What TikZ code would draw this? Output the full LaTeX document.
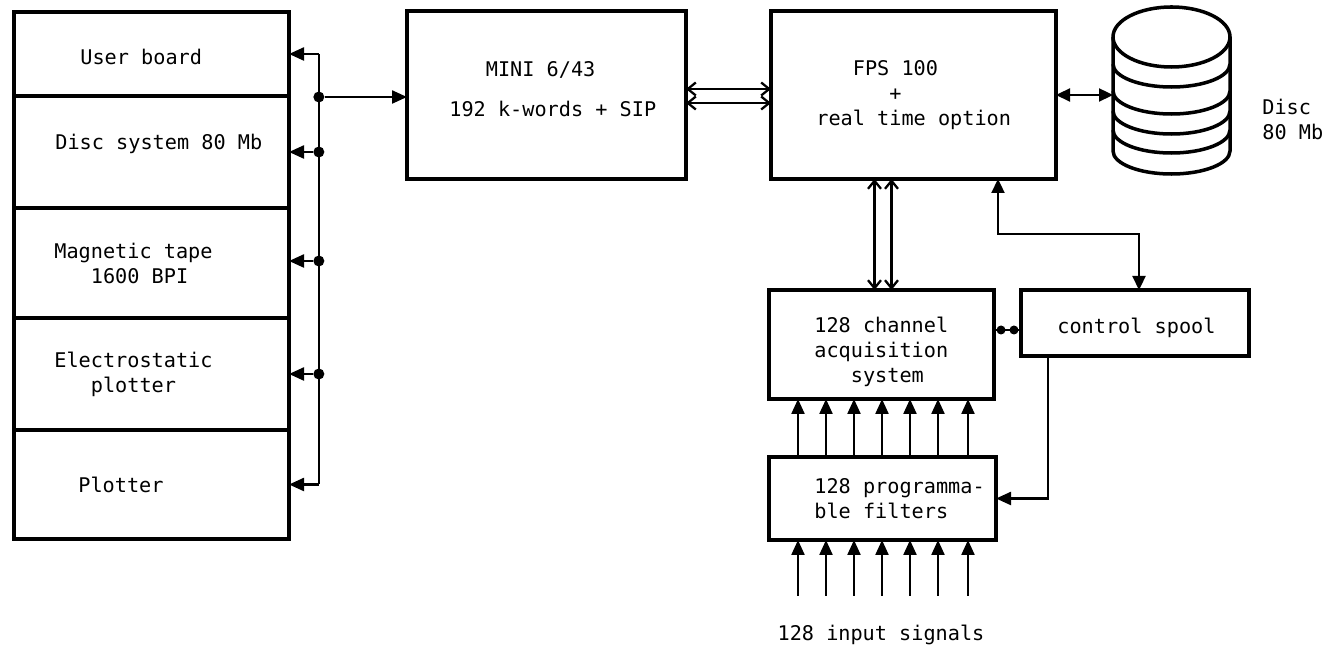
\documentclass[tikz,border=0pt]{standalone}
\usepackage{fontspec}
\setmainfont{DejaVu Sans Mono}
\usetikzlibrary{arrows.meta,positioning}

\begin{document}
\begin{tikzpicture}[
        unitbox/.style={draw, line width=2pt, outer sep=0pt, minimum width=#1},
        unitbox/.default=5.5cm,
        tag/.style={inner sep=0pt, align=left, font=\fontsize{11.5}{14.2}\selectfont},
        flow/.style={-{Triangle[length=3mm,width=2.6mm]}, line width=1.3pt},
        biflow/.style={{Triangle[length=2.8mm,width=2.6mm]}-{Triangle[length=2.8mm,width=2.6mm]}, line width=1.3pt},
        bus/.style={{Straight Barb[length=1.6mm,width=2.6mm]}-{Straight Barb[length=1.6mm,width=2.6mm]}, line width=1.3pt},
        junction/.style={circle, fill, inner sep=0pt, minimum size=2.2mm}
    ]
        \useasboundingbox (0,0) rectangle (26.46,-13);

        % peripherals
        \node[unitbox, minimum height=1.68cm, anchor=north west] (user-board) at (0.28,-0.24) {};
        \node[unitbox, minimum height=2.24cm, below=0pt of user-board] (disc-system) {};
        \node[unitbox, minimum height=2.2cm, below=0pt of disc-system] (magnetic-tape) {};
        \node[unitbox, minimum height=2.24cm, below=0pt of magnetic-tape] (electrostatic) {};
        \node[unitbox, minimum height=2.18cm, below=0pt of electrostatic] (plotter) {};

        \node[tag, right=1.32cm of user-board.west, yshift=-0.06cm] (user-board-text) {User board};
        \node[tag, right=0.82cm of disc-system.west, yshift=0.16cm] (disc-system-text) {Disc system 80 Mb};
        \node[tag, right=0.8cm of magnetic-tape.west] (magnetic-tape-text) {Magnetic tape\\~~~1600 BPI};
        \node[tag, right=0.8cm of electrostatic.west] (electrostatic-text) {Electrostatic\\~~~plotter};
        \node[tag, right=1.28cm of plotter.west] (plotter-text) {Plotter};

        % processors
        \node[unitbox=5.58cm, minimum height=3.36cm, right=2.36cm of user-board.north east, anchor=north west, yshift=0.02cm] (mini) {};
        \node[unitbox=5.7cm, minimum height=3.36cm, right=1.7cm of mini] (fps) {};
        \node[tag, right=0.84cm of mini.west, yshift=0.12cm] (mini-text) {~~~MINI 6/43\\[0.3cm]192 k-words + SIP};
        \node[tag, right=0.9cm of fps.west] (fps-text) {~~~FPS 100\\~~~~~~+\\real time option};

        % disc
        \node[minimum width=2.34cm, minimum height=3.36cm, outer sep=0pt, inner sep=0pt, right=1.14cm of fps.north east, anchor=north west, yshift=0.08cm] (disc) {};
        \node[tag, right=0.64cm of disc.east, yshift=-0.56cm] (disc-text) {Disc\\80 Mb};
        \draw[line width=2pt] (disc.north west) ++(0,-0.6) arc[start angle=180, end angle=-180, x radius=1.17cm, y radius=0.6cm];
        \draw[line width=2pt] ([yshift=-0.6cm]disc.north west) -- ([yshift=-2.88cm]disc.north west)
            arc[start angle=180, end angle=360, x radius=1.17cm, y radius=0.46cm] -- ([yshift=-0.6cm]disc.north east);
        \foreach \y in {1.14,1.68,2.08,2.46}
            \draw[line width=2pt] ([yshift=-\y cm]disc.north west) arc[start angle=180, end angle=360, x radius=1.17cm, y radius=0.46cm];

        % acquisition
        \node[unitbox=4.5cm, minimum height=2.18cm, below=2.22cm of fps.south west, anchor=north west, xshift=-0.04cm] (acquisition) {};
        \node[unitbox=4.54cm, minimum height=1.66cm, below=1.16cm of acquisition.south west, anchor=north west] (filters) {};
        \node[unitbox=4.56cm, minimum height=1.32cm, right=0.54cm of acquisition.north east, anchor=north west] (control) {};
        \node[tag, right=0.9cm of acquisition.west, yshift=-0.15cm] (acquisition-text) {128 channel\\acquisition\\~~~system};
        \node[tag, right=0.9cm of filters.west] (filters-text) {128 programma-\\ble filters};
        \node[tag, right=0.72cm of control.west, yshift=-0.1cm] (control-text) {control spool};
        \node[tag, below=1.7cm of filters.south, xshift=-0.03cm] (input-text) {128 input signals};

        % bus on the peripherals
        \node[junction, right=0.48cm of disc-system.east] (bus-disc) {};
        \node[junction, right=0.48cm of magnetic-tape.east, yshift=0.04cm] (bus-tape) {};
        \node[junction, right=0.48cm of electrostatic.east] (bus-plotter) {};
        \node[junction, yshift=-0.04cm] (bus-mini) at (bus-disc |- mini.west) {};

        \draw[flow] (bus-disc |- user-board.east) -- (user-board.east);
        \draw[flow] (bus-disc) -- (disc-system.east);
        \draw[flow] (bus-tape) -- (bus-tape -| magnetic-tape.east);
        \draw[flow] (bus-plotter) -- (electrostatic.east);
        \draw[flow] (bus-disc |- plotter.east) -- (plotter.east);
        \draw[line width=1.3pt] (bus-disc |- user-board.east) -- (bus-disc |- plotter.east);
        \draw[flow] (bus-mini) -- (bus-mini -| mini.west);

        % links
        \draw[bus] ([yshift=0.12cm]mini.east) -- ([yshift=0.12cm]fps.west);
        \draw[bus] ([yshift=-0.16cm]mini.east) -- ([yshift=-0.16cm]fps.west);
        \draw[biflow] (fps.east) -- (fps.east -| disc.west);
        \draw[bus] ([xshift=-0.14cm]acquisition.north) -- ([xshift=-0.14cm]acquisition.north |- fps.south);
        \draw[bus] ([xshift=0.2cm]acquisition.north) -- ([xshift=0.2cm]acquisition.north |- fps.south);
        \draw[biflow] ([xshift=1.69cm]fps.south) |- ++(0,-1.1) -| ([xshift=0.08cm]control.north);
        \draw[line width=1.3pt] ([yshift=-0.14cm]control.west) -- ([yshift=-0.14cm]control.west -| acquisition.east)
            node[junction, pos=0.26, minimum size=1.8mm] (control-dot) {} node[junction, pos=0.74, minimum size=1.8mm] (acquisition-dot) {};
        \draw[flow] ([xshift=0.54cm]control.south west) |- (filters.east);

        \foreach \x in {0.58,1.14,1.7,2.26,2.82,3.38,3.98} {
            \draw[flow] ([xshift=\x cm]filters.north west) -- ([xshift=\x cm]acquisition.south west);
            \draw[flow] ([xshift=\x cm, yshift=-1.12cm]filters.south west) -- ([xshift=\x cm]filters.south west);
        }
    \end{tikzpicture}
\end{document}
